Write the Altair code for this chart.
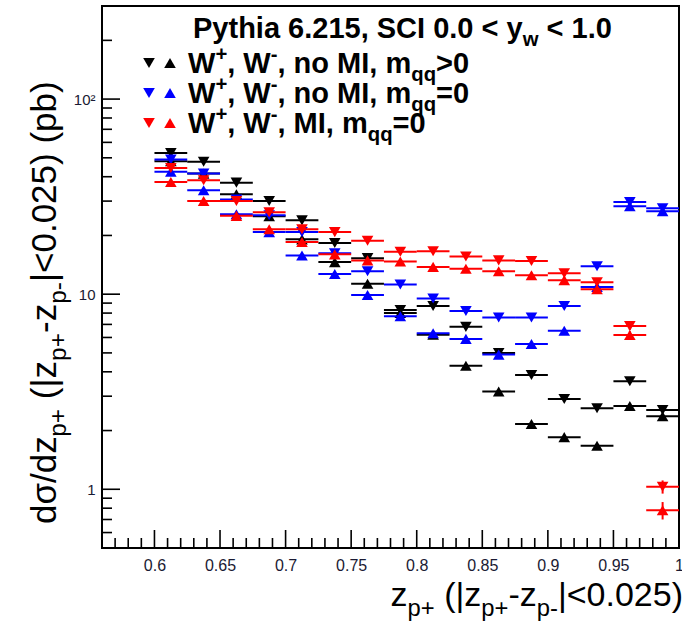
import altair as alt
import pandas as pd

# ---------------- data ----------------
z_center = [0.6125, 0.6375, 0.6625, 0.6875, 0.7125, 0.7375, 0.7625, 0.7875,
            0.8125, 0.8375, 0.8625, 0.8875, 0.9125, 0.9375, 0.9625, 0.9875]
half_bin = 0.0125

# W+ (triangle down) and W- (triangle up), dsigma/dz in pb
black_wplus  = [52.9, 47.7, 37.3, 30.0, 23.9, 18.3, 15.3, 8.3, 8.7, 6.8, 5.0, 3.85, 2.9, 2.6, 3.58, 2.55]
black_wminus = [48.0, 41.5, 32.5, 25.1, 19.1, 14.6, 11.3, 8.0, 6.2, 4.3, 3.17, 2.16, 1.85, 1.67, 2.67, 2.37]
blue_wplus   = [49.0, 41.5, 30.6, 25.4, 20.8, 16.2, 13.1, 11.2, 9.5, 8.2, 7.6, 7.6, 8.7, 13.9, 29.7, 27.6]
blue_wminus  = [42.4, 34.1, 25.7, 20.8, 15.8, 12.7, 9.9, 7.7, 6.3, 5.9, 4.9, 5.55, 6.5, 10.9, 28.2, 26.6]
red_wplus    = [44.3, 38.4, 30.0, 26.3, 21.5, 20.8, 18.8, 16.5, 16.6, 15.6, 14.9, 14.8, 12.8, 11.5, 6.86, 1.03]
red_wminus   = [37.6, 30.0, 25.2, 21.5, 18.5, 16.0, 14.9, 14.7, 13.8, 13.5, 13.1, 12.5, 11.8, 10.6, 6.17, 0.78]
red_wplus_err  = [0.9, 0.8, 0.7, 0.6, 0.5, 0.5, 0.5, 0.4, 0.4, 0.4, 0.4, 0.4, 0.4, 0.4, 0.3, 0.08]
red_wminus_err = [0.8, 0.7, 0.6, 0.5, 0.5, 0.4, 0.4, 0.4, 0.4, 0.4, 0.4, 0.4, 0.4, 0.4, 0.3, 0.08]

series_colors = ["#000000", "#0000ff", "#ff0000"]

x_major = [0.6, 0.65, 0.7, 0.75, 0.8, 0.85, 0.9, 0.95, 1.0]
x_minor = [0.57, 0.58, 0.59, 0.61, 0.62, 0.63, 0.64, 0.66, 0.67, 0.68, 0.69,
           0.71, 0.72, 0.73, 0.74, 0.76, 0.77, 0.78, 0.79, 0.81, 0.82, 0.83, 0.84,
           0.86, 0.87, 0.88, 0.89, 0.91, 0.92, 0.93, 0.94, 0.96, 0.97, 0.98, 0.99]
y_major = [1, 10, 100]
y_minor = [0.6, 0.7, 0.8, 0.9, 2, 3, 4, 5, 6, 7, 8, 9, 20, 30, 40, 50, 60, 70, 80, 90, 200]

# ---------------- layout ----------------
W, H = 682, 623
LEFT, TOP = 102, 6
PW, PH = 577, 542
FONT = "Liberation Sans"

xs = alt.Scale(domain=[0.56, 1.0], nice=False, zero=False)
ys = alt.Scale(type="log", domain=[0.5, 300], nice=False)
xaxis = alt.Axis(values=x_major, format="~g", ticks=False, domain=False, grid=False,
                 labelFont=FONT, labelFontSize=16, labelPadding=9, labelColor="#1a1a33",
                 labelFlush=False, title=None)
yaxis = alt.Axis(values=y_major, labelExpr="datum.value >= 100 ? '10\u00b2' : (datum.value >= 10 ? '10' : '1')",
                 ticks=False, domain=False, grid=False, labelFont=FONT, labelFontSize=15,
                 labelPadding=7, labelColor="#1a1a33", title=None)

def X(f):
    return alt.X(f, type="quantitative", scale=xs, axis=xaxis)

def Y(f):
    return alt.Y(f, type="quantitative", scale=ys, axis=yaxis)

layers = []

# data layers: per series, error bars then markers (black, blue, red order)
groups = [
    (series_colors[0], black_wplus, black_wminus, None, None),
    (series_colors[1], blue_wplus, blue_wminus, None, None),
    (series_colors[2], red_wplus, red_wminus, red_wplus_err, red_wminus_err),
]
for color, wp, wm, ep, em in groups:
    rows = []
    for i, z in enumerate(z_center):
        for charge, vals, errs in (("W+", wp, ep), ("W-", wm, em)):
            v = vals[i]
            e = errs[i] if errs else 0.0
            rows.append({"z": z, "zlo": z - half_bin, "zhi": z + half_bin, "v": v,
                         "lo": v - e, "hi": v + e, "charge": charge})
    df = pd.DataFrame(rows)
    base = alt.Chart(df)
    layers.append(base.mark_rule(color=color, strokeWidth=2).encode(
        x=X("zlo"), x2="zhi", y=Y("v")))
    if ep:
        layers.append(base.mark_rule(color=color, strokeWidth=2).encode(
            x=X("z"), y=Y("lo"), y2="hi"))
    layers.append(base.mark_point(filled=True, opacity=1, size=135, color=color, strokeWidth=0).encode(
        x=X("z"), y=Y("v"),
        shape=alt.Shape("charge:N", scale=alt.Scale(domain=["W+", "W-"],
                                                    range=["triangle-down", "triangle-up"]),
                        legend=None)))

# inward ticks
def xticks(vals, length):
    return alt.Chart(pd.DataFrame({"t": vals})).mark_rule(color="black", strokeWidth=1.6).encode(
        x=X("t"), y=alt.value(PH), y2=alt.value(PH - length))

def yticks(vals, length):
    return alt.Chart(pd.DataFrame({"t": vals})).mark_rule(color="black", strokeWidth=1.6).encode(
        y=Y("t"), x=alt.value(0), x2=alt.value(length))

layers += [xticks(x_major, 18), xticks(x_minor, 10), yticks(y_major, 18), yticks(y_minor, 10)]

# ---------------- rich text helper (sub/superscripts) ----------------
ARIAL = {' ': 278, ',': 278, '.': 278, '/': 278, '(': 333, ')': 333, '|': 260, '-': 333,
         '+': 584, '<': 584, '>': 584, '=': 584, 'd': 556, 'z': 500, 'p': 556, 'b': 556,
         '\u03c3': 600}
ARIAL_B = {' ': 278, ',': 278, '.': 278, '<': 584, '>': 584, '=': 584, '+': 584, '-': 333,
           'P': 667, 'y': 556, 't': 333, 'h': 611, 'i': 278, 'a': 556, 'S': 667, 'C': 722,
           'I': 278, 'W': 944, 'n': 611, 'o': 611, 'M': 833, 'm': 889, 'q': 611, 'w': 778}
dummy = pd.DataFrame({"a": [0]})

def width(s, size, bold):
    tbl = ARIAL_B if bold else ARIAL
    return sum(tbl.get(c, 556) for c in s) * size / 1000.0

def rich(pieces, x0, y0, size, bold=False, vertical=False, end=False, color="black"):
    fs_of = {"n": 1.0, "sub": 0.7, "sup": 0.7}
    shift_of = {"n": 0.0, "sub": 0.28, "sup": -0.42}
    total = sum(width(t, size * fs_of[k], bold) for t, k in pieces)
    pos = -total if end else 0.0
    out = []
    for t, k in pieces:
        fs = size * fs_of[k]
        sh = shift_of[k] * size
        # leading spaces are not rendered: advance by them instead
        lead = len(t) - len(t.lstrip(" "))
        pos += width(" " * lead, fs, bold)
        t = t.lstrip(" ")
        if vertical:
            px, py = x0 + sh, y0 - pos
        else:
            px, py = x0 + pos, y0 + sh
        out.append(alt.Chart(dummy).mark_text(
            text=t, font=FONT, fontSize=fs, fontWeight="bold" if bold else "normal",
            align="left", baseline="alphabetic", angle=270 if vertical else 0, color=color
        ).encode(x=alt.value(px - LEFT), y=alt.value(py - TOP)))
        pos += width(t, fs, bold)
    return out

# axis titles
layers += rich([("z", "n"), ("p+", "sub"), (" (|z", "n"), ("p+", "sub"), ("-z", "n"),
                ("p-", "sub"), ("|<0.025)", "n")], 683, 606, 34, end=True)
layers += rich([("d\u03c3/dz", "n"), ("p+", "sub"), (" (|z", "n"), ("p+", "sub"), ("-z", "n"),
                ("p-", "sub"), ("|<0.025) (pb)", "n")], 56, 524, 35, vertical=True)

# legend block
LEG = 29
layers += rich([("Pythia 6.215, SCI 0.0 < y", "n"), ("w", "sub"), (" < 1.0", "n")], 193, 38, LEG, bold=True)
leg_rows = [
    [("W", "n"), ("+", "sup"), (", W", "n"), ("-", "sup"), (", no MI, m", "n"), ("qq", "sub"), (">0", "n")],
    [("W", "n"), ("+", "sup"), (", W", "n"), ("-", "sup"), (", no MI, m", "n"), ("qq", "sub"), ("=0", "n")],
    [("W", "n"), ("+", "sup"), (", W", "n"), ("-", "sup"), (", MI, m", "n"), ("qq", "sub"), ("=0", "n")],
]
row_base = [73, 103, 133]
for pieces, yb, color in zip(leg_rows, row_base, series_colors):
    layers += rich(pieces, 188, yb, LEG, bold=True)
    for shp, xm in (("triangle-down", 149), ("triangle-up", 170)):
        layers.append(alt.Chart(dummy).mark_point(
            filled=True, opacity=1, size=135, shape=shp, color=color, strokeWidth=0
        ).encode(x=alt.value(xm - LEFT), y=alt.value(yb - 10 - TOP)))

chart = alt.layer(*layers).properties(
    width=PW, height=PH, autosize=alt.AutoSizeParams(type="none"),
    padding={"left": LEFT, "top": TOP, "right": W - LEFT - PW, "bottom": H - TOP - PH},
    background="white",
).configure_view(stroke="black", strokeWidth=2)

chart.save("out.html", embed_options={"renderer": "svg", "actions": False})
